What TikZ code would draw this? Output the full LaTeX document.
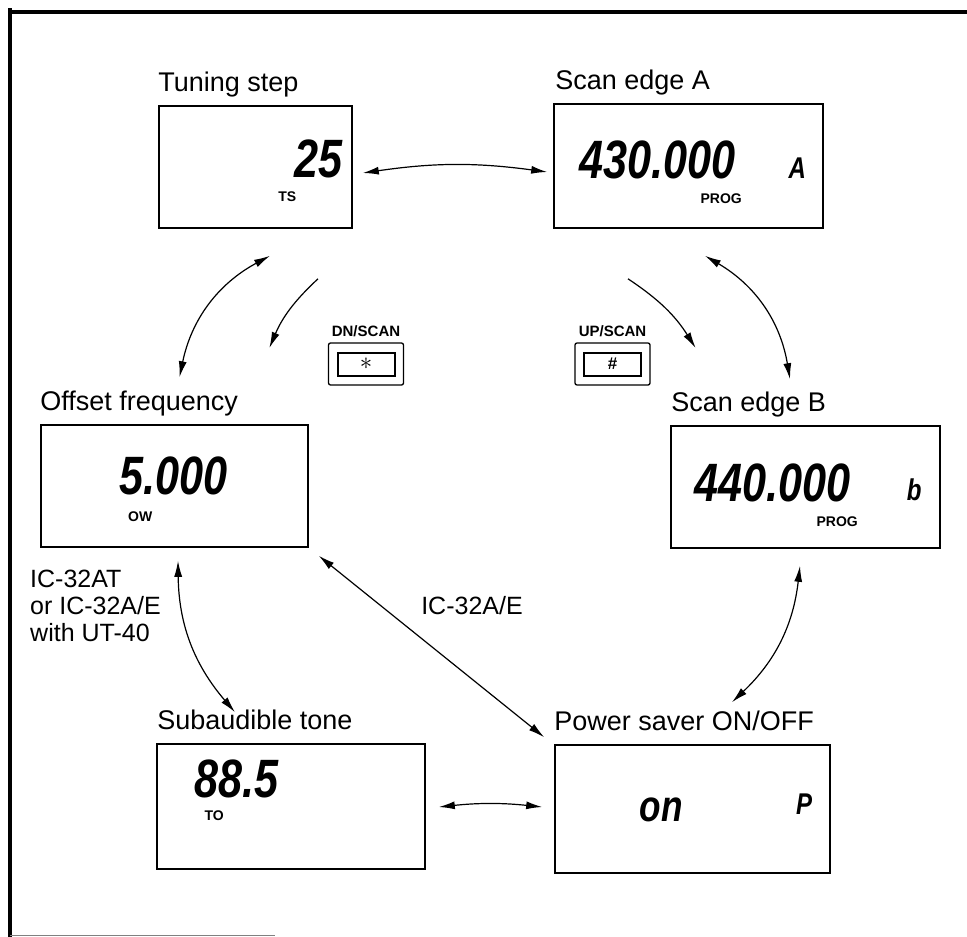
\documentclass[tikz,border=0pt]{standalone}
\usepackage{fontspec}
\setmainfont{Liberation Sans}
\usepackage{graphicx}
\usepackage{tikz}
\usetikzlibrary{arrows.meta,positioning,calc}
\newcommand{\ttlfont}{\fontsize{27}{30}\selectfont}
\newcommand{\notefont}{\fontsize{25}{27}\selectfont}
\newcommand{\lcdfont}{\fontsize{54}{54}\selectfont\bfseries\itshape}
\newcommand{\flagfont}{\fontsize{30}{30}\selectfont\bfseries\itshape}
\newcommand{\tagfont}{\fontsize{14}{14}\selectfont\bfseries}
\newcommand{\keyfont}{\fontsize{15}{15}\selectfont\bfseries}
\newcommand{\seg}[1]{\scalebox{0.8}[1]{#1}}
\tikzset{
  lcd/.style={draw, line width=1.6pt, inner sep=0pt},
  ttl/.style={font=\ttlfont, inner sep=0pt, text depth=7pt},
  digits/.style={font=\lcdfont, inner sep=0pt},
  flag/.style={font=\flagfont, inner sep=0pt},
  tag/.style={font=\tagfont, inner sep=0pt},
  note/.style={font=\notefont, inner sep=0pt, align=left},
  keycap/.style={draw, rounded corners=2pt, line width=1.3pt, minimum width=75pt, minimum height=42pt},
  keyface/.style={draw, line width=2pt, minimum width=57pt, minimum height=23pt, inner sep=0pt, font=\fontsize{17}{17}\selectfont\bfseries},
  keylbl/.style={font=\keyfont, inner sep=0pt},
  dbl/.style={{Latex[length=16pt,width=8pt]}-{Latex[length=16pt,width=8pt]}, line width=1.2pt},
  one/.style={-{Latex[length=16pt,width=8pt]}, line width=1.2pt},
}

\begin{document}
\begin{tikzpicture}[x=1pt,y=-1pt]
\useasboundingbox (0,0) rectangle (967,937);
% --- frame ---
\draw[line width=4pt] (8,12) -- (967,12);
\draw[line width=4pt] (10,8) -- (10,937);
\draw[line width=1pt, gray] (10,935) -- (275,935);
% --- Tuning step ---
\node[lcd, minimum width=193pt, minimum height=122pt] (ts) at (255.5,167) {};
\node[ttl, above right=7pt and 0pt of ts.north west] (ts-t) {Tuning step};
\node[digits] (ts-v) at ($(ts.north west)+(160,54)$) {\seg{25}};
\node[tag] (ts-g) at ($(ts.north west)+(129,91)$) {TS};
% --- Scan edge A ---
\node[lcd, minimum width=269pt, minimum height=124pt] (sa) at (688.5,166) {};
\node[ttl, above right=7pt and 2pt of sa.north west] (sa-t) {Scan edge A};
\node[digits] (sa-v) at ($(sa.north west)+(104,57)$) {\seg{430.000}};
\node[flag] (sa-f) at ($(sa.north west)+(244,65)$) {\seg{A}};
\node[tag] (sa-g) at ($(sa.north west)+(168,95)$) {PROG};
% --- Offset frequency ---
\node[lcd, minimum width=267pt, minimum height=122pt] (of) at (174.5,486) {};
\node[ttl, above right=7pt and 0pt of of.north west] (of-t) {Offset frequency};
\node[digits] (of-v) at ($(of.north west)+(133,52)$) {\seg{5.000}};
\node[tag] (of-g) at ($(of.north west)+(100,92)$) {OW};
% --- Scan edge B ---
\node[lcd, minimum width=269pt, minimum height=122pt] (sb) at (805.5,487) {};
\node[ttl, above right=7pt and 1pt of sb.north west] (sb-t) {Scan edge B};
\node[digits] (sb-v) at ($(sb.north west)+(102,58)$) {\seg{440.000}};
\node[flag] (sb-f) at ($(sb.north west)+(244,65)$) {\seg{b}};
\node[tag] (sb-g) at ($(sb.north west)+(167,96)$) {PROG};
% --- Subaudible tone ---
\node[lcd, minimum width=268pt, minimum height=125pt] (st) at (291,806.5) {};
\node[ttl, above right=7pt and 1pt of st.north west] (st-t) {Subaudible tone};
\node[digits] (st-v) at ($(st.north west)+(80,36)$) {\seg{88.5}};
\node[tag] (st-g) at ($(st.north west)+(58,72)$) {TO};
% --- Power saver ---
\node[lcd, minimum width=275pt, minimum height=128pt] (ps) at (692.5,809) {};
\node[ttl, above right=7pt and 0pt of ps.north west] (ps-t) {Power saver ON/OFF};
\node[digits, font=\fontsize{44}{44}\selectfont\bfseries\itshape] (ps-v) at ($(ps.north west)+(107,66)$) {\seg{on}};
\node[flag] (ps-f) at ($(ps.north west)+(250,60)$) {\seg{P}};
% --- keys ---
\node[keycap] (dn) at (366,364) {};
\node[keyface] (dn-f) at (dn) {\fontsize{28}{28}\selectfont$\ast$};
\node[keylbl, above=5pt of dn] (dn-l) {DN/SCAN};
\node[keycap] (up) at (612.5,364) {};
\node[keyface] (up-f) at (up) {\#};
\node[keylbl, above=5pt of up] (up-l) {UP/SCAN};
% --- notes ---
\node[note, anchor=north west] (n1) at (30,570) {IC-32AT\\or IC-32A/E\\with UT-40};
\node[note] (n2) at (472,606) {IC-32A/E};
% --- arrows ---
\draw[dbl] ([shift={(10,6)}]ts.east) to[bend left=8] ([shift={(-6,6)}]sa.west);
\draw[dbl] ([shift={(14.5,27)}]ts.south) to[bend right=25] ([shift={(5,-47)}]of.north);
\draw[one] ([shift={(62.5,50)}]ts.south) to[bend right=12] ([shift={(-58.5,-16)}]dn.west);
\draw[one] ([shift={(-60.5,50)}]sa.south) to[bend left=12] ([shift={(45,-16)}]up.east);
\draw[dbl] ([shift={(16.5,27)}]sa.south) to[bend left=25] ([shift={(-15.5,-46)}]sb.north);
\draw[dbl] ([shift={(-5.5,17)}]sb.south) to[bend left=20] ([shift={(39.5,-42)}]ps.north);
\draw[dbl] ([shift={(10,8)}]of.south east) -- ([shift={(-10,-7)}]ps.north west);
\draw[dbl] ([shift={(3.5,13)}]of.south) to[bend right=20] ([shift={(-56,-31)}]st.north);
\draw[dbl] ([shift={(13,0.5)}]st.east) to[bend left=6] ([shift={(-12,-2)}]ps.west);
\end{tikzpicture}
\end{document}
